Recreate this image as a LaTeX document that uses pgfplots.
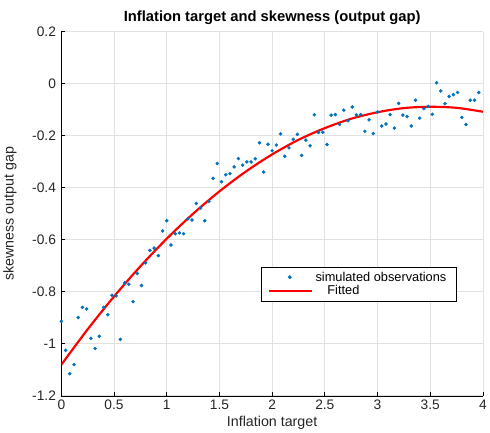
\documentclass[border=0pt]{standalone}
\usepackage{fontspec}
\setmainfont{Liberation Sans}
\usepackage{pgfplots}
\pgfplotsset{compat=1.18}
\definecolor{mblue}{RGB}{0,114,189}
\definecolor{mgrid}{RGB}{225,225,225}
\definecolor{mtext}{RGB}{38,38,38}

\pgfplotsset{
  dotlegend/.style={legend image code/.code={\draw[##1] plot coordinates {(21bp,0bp)};}},
  linelegend/.style={legend image code/.code={\draw[##1] (0bp,0bp) -- (43bp,0bp);}},
}

\pgfplotstableread{
x y
0.00 -0.914
0.04 -1.025
0.08 -1.115
0.12 -1.080
0.16 -0.899
0.20 -0.860
0.24 -0.866
0.28 -0.979
0.32 -1.018
0.36 -0.971
0.40 -0.860
0.44 -0.888
0.48 -0.813
0.52 -0.816
0.56 -0.983
0.60 -0.766
0.64 -0.771
0.68 -0.838
0.72 -0.730
0.76 -0.776
0.80 -0.689
0.84 -0.641
0.88 -0.632
0.92 -0.661
0.96 -0.566
1.00 -0.527
1.04 -0.620
1.08 -0.577
1.12 -0.574
1.16 -0.577
1.20 -0.520
1.24 -0.524
1.28 -0.461
1.32 -0.478
1.36 -0.527
1.40 -0.453
1.44 -0.364
1.48 -0.307
1.52 -0.377
1.56 -0.350
1.60 -0.346
1.64 -0.320
1.68 -0.288
1.72 -0.313
1.76 -0.301
1.80 -0.301
1.84 -0.289
1.88 -0.227
1.92 -0.340
1.96 -0.233
2.00 -0.258
2.04 -0.236
2.08 -0.193
2.12 -0.279
2.16 -0.247
2.20 -0.214
2.24 -0.195
2.28 -0.276
2.32 -0.217
2.36 -0.239
2.40 -0.120
2.44 -0.188
2.48 -0.187
2.52 -0.234
2.56 -0.121
2.60 -0.119
2.64 -0.157
2.68 -0.102
2.72 -0.143
2.76 -0.090
2.80 -0.120
2.84 -0.119
2.88 -0.183
2.92 -0.139
2.96 -0.192
3.00 -0.109
3.04 -0.163
3.08 -0.155
3.12 -0.119
3.16 -0.171
3.20 -0.076
3.24 -0.121
3.28 -0.126
3.32 -0.163
3.36 -0.064
3.40 -0.133
3.44 -0.096
3.48 -0.087
3.52 -0.118
3.56 0.003
3.60 -0.028
3.64 -0.077
3.68 -0.049
3.72 -0.042
3.76 -0.034
3.80 -0.130
3.84 -0.157
3.88 -0.064
3.92 -0.064
3.96 -0.034
}\obsdata

\pgfplotstableread{
x y
0.00 -1.080
0.25 -0.944
0.50 -0.818
0.75 -0.702
1.00 -0.596
1.25 -0.500
1.50 -0.414
1.75 -0.338
2.00 -0.272
2.25 -0.216
2.50 -0.171
2.75 -0.135
3.00 -0.110
3.25 -0.094
3.50 -0.089
3.75 -0.093
4.00 -0.108
}\fitdata

\begin{document}
\begin{tikzpicture}
\begin{axis}[
  scale only axis,
  width=427bp, height=369bp,
  xmin=0, xmax=4, ymin=-1.2, ymax=0.2,
  axis lines*=left,
  xtick={0,0.5,...,4},
  ytick={-1.2,-1,...,0.2},
  yticklabels={-1.2,-1,-0.8,-0.6,-0.4,-0.2,0,0.2},
  /pgf/number format/assume math mode=true,
  grid=major,
  major grid style={mgrid, line width=0.8pt},
  tick align=inside,
  major tick length=4bp,
  axis line style={black, line width=0.7pt},
  tick style={black, line width=0.7pt},
  ticklabel style={font=\fontsize{14}{16}\selectfont, text=mtext},
  yticklabel style={xshift=-2bp},
  xticklabel style={yshift=-1bp},
  title={\textbf{Inflation target and skewness (output gap)}},
  title style={font=\fontsize{15}{17}\selectfont, yshift=-2bp},
  xlabel={Inflation target},
  ylabel={skewness output gap},
  label style={font=\fontsize{14.5}{16}\selectfont, text=mtext},
  xlabel style={yshift=1bp},
  ylabel style={yshift=9bp},
  legend style={at={(0.473,0.355)}, anchor=north west, draw=black,
    line width=0.7pt, font=\fontsize{13}{15}\selectfont,
    inner xsep=7pt, inner ysep=3bp, row sep=-1bp,
    nodes={inner xsep=3bp, inner ysep=2bp}},
  legend cell align=left,
]
\addplot[only marks, mark=*, mark size=1.6pt, color=mblue, dotlegend]
  table[x=x, y=y] {\obsdata};
\addlegendentry{simulated observations\hspace{10bp}}
\addplot[red, line width=2.2pt, smooth, no marks, linelegend] table[x=x, y=y] {\fitdata};
\addlegendentry{\hspace{12bp}Fitted}
\coordinate (axtop) at (rel axis cs:0,1);
\end{axis}
% white space above the title, as in the reference
\path (axtop) ++(0,32bp);
\end{tikzpicture}
\end{document}
